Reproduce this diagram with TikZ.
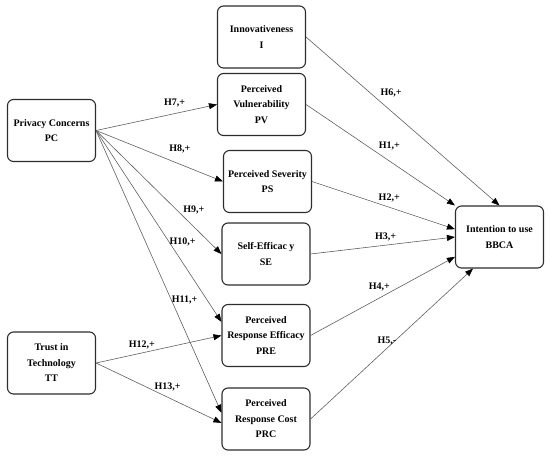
\documentclass[tikz,border=0pt]{standalone}
\usepackage{fontspec}
\setmainfont{Liberation Serif}
\usetikzlibrary{arrows.meta}
\tikzset{>={Triangle[length=8pt,width=6pt,color=black]}}
\definecolor{boxline}{RGB}{45,45,45}
\definecolor{pathline}{RGB}{95,95,95}

\begin{document}
\begin{tikzpicture}[x=1pt,y=-1pt,
	construct/.style={draw=boxline, line width=1.1pt, rounded corners=6pt,
		minimum width=88pt, minimum height=62pt, align=center, inner sep=2pt,
		font=\fontsize{10}{15.5}\selectfont\bfseries},
	hpath/.style={draw=pathline, line width=0.6pt, ->},
	hyp/.style={font=\bfseries, inner sep=1pt}]
	\useasboundingbox (0,0) rectangle (550,456);

	% constructs
	\node[construct] (I)   at (261.5,37)  {Innovativeness\\I};
	\node[construct] (PV)  at (261.5,104.5) {Perceived\\Vulnerability\\PV};
	\node[construct] (PC)  at (51.5,130.5) {Privacy Concerns\\PC};
	\node[construct] (PS)  at (267.5,181.5) {Perceived Severity\\PS};
	\node[construct] (SE)  at (266,254)   {Self-Efficac y\\SE};
	\node[construct] (PRE) at (266,335.5) {Perceived\\Response Efficacy\\PRE};
	\node[construct] (PRC) at (266,419)   {Perceived\\Response Cost\\PRC};
	\node[construct] (TT)  at (51.5,363)  {Trust in\\Technology\\TT};
	\node[construct] (BBCA) at (499.5,237) {Intention to use\\BBCA};

	% paths from privacy concerns and trust
	\draw[hpath] (PC.east) -- node[hyp, pos=0.65, yshift=11pt] (h7) {H7,+} (PV.west);
	\draw[hpath] (PC.east) -- node[hyp, pos=0.66, yshift=15pt] (h8) {H8,+} (PS.west);
	\draw[hpath] (PC.east) -- node[hyp, pos=0.78, yshift=17pt] (h9) {H9,+} (SE.west);
	\draw[hpath] (PC.east) -- node[hyp, pos=0.69, yshift=21pt] (h10) {H10,+} (PRE.163);
	\draw[hpath] (PC.east) -- node[hyp, pos=0.706, yshift=30pt] (h11) {H11,+} (PRC.172);
	\draw[hpath] (TT.east) -- node[hyp, pos=0.365, yshift=8.5pt] (h12) {H12,+} (PRE.west);
	\draw[hpath] (TT.east) -- node[hyp, pos=0.571, yshift=10pt] (h13) {H13,+} (PRC.185);

	% paths to intention
	\draw[hpath] (I.east)   -- node[hyp, pos=0.44, yshift=18pt] (h6) {H6,+} (BBCA.north);
	\draw[hpath] (PV.east)  -- node[hyp, pos=0.56, yshift=15pt] (h1) {H1,+} (BBCA.north west);
	\draw[hpath] (PS.east)  -- node[hyp, pos=0.54, yshift=9pt] (h2) {H2,+} (BBCA.170);
	\draw[hpath] (SE.east)  -- node[hyp, pos=0.52, yshift=8.5pt] (h3) {H3,+} (BBCA.west);
	\draw[hpath] (PRE.east) -- node[hyp, pos=0.476, yshift=11pt] (h4) {H4,+} (BBCA.204);
	\draw[hpath] (PRC.east) -- node[hyp, pos=0.47, yshift=7pt] (h5) {H5,-} (BBCA.230);
\end{tikzpicture}
\end{document}
